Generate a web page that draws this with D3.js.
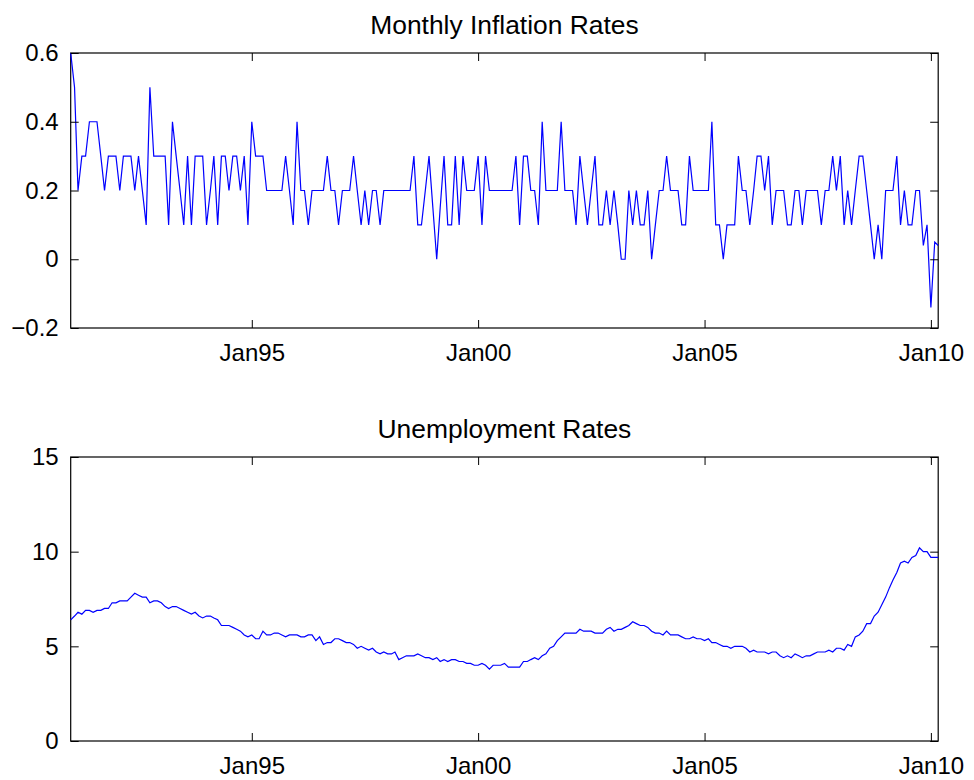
<!DOCTYPE html>
<html>
<head>
<meta charset="utf-8">
<script src="https://cdn.jsdelivr.net/npm/d3@7"></script>
<style>
  body { margin: 0; background: #fff; }
  svg { display: block; }
  text { font-family: "Liberation Sans", Arial, Helvetica, sans-serif; fill: #000; }
</style>
</head>
<body>
<svg id="chart" width="974" height="780"></svg>
<script>
// Monthly series, January 1991 through March 2010
const firstMonth = "1991-01";
const lastMonth = "2010-03";

// Month-over-month inflation, percent
const inflation = [
  0.6, 0.5, 0.2, 0.3, 0.3, 0.4, 0.4, 0.4, 0.3, 0.2, 0.3, 0.3,
  0.3, 0.2, 0.3, 0.3, 0.3, 0.2, 0.3, 0.2, 0.1, 0.5, 0.3, 0.3,
  0.3, 0.3, 0.1, 0.4, 0.3, 0.2, 0.1, 0.3, 0.1, 0.3, 0.3, 0.3,
  0.1, 0.2, 0.3, 0.1, 0.3, 0.3, 0.2, 0.3, 0.3, 0.2, 0.3, 0.1,
  0.4, 0.3, 0.3, 0.3, 0.2, 0.2, 0.2, 0.2, 0.2, 0.3, 0.2, 0.1,
  0.4, 0.2, 0.2, 0.1, 0.2, 0.2, 0.2, 0.2, 0.3, 0.2, 0.2, 0.1,
  0.2, 0.2, 0.2, 0.3, 0.2, 0.1, 0.2, 0.1, 0.2, 0.2, 0.1, 0.2,
  0.2, 0.2, 0.2, 0.2, 0.2, 0.2, 0.2, 0.3, 0.1, 0.1, 0.2, 0.3,
  0.15, 0.0, 0.15, 0.3, 0.1, 0.1, 0.3, 0.1, 0.3, 0.2, 0.2, 0.2,
  0.3, 0.1, 0.3, 0.2, 0.2, 0.2, 0.2, 0.2, 0.2, 0.2, 0.3, 0.1,
  0.3, 0.3, 0.2, 0.2, 0.1, 0.4, 0.2, 0.2, 0.2, 0.2, 0.4, 0.2,
  0.2, 0.2, 0.1, 0.3, 0.2, 0.1, 0.2, 0.3, 0.1, 0.1, 0.2, 0.1,
  0.2, 0.1, 0.0, 0.0, 0.2, 0.1, 0.2, 0.1, 0.1, 0.2, 0.0, 0.1,
  0.2, 0.2, 0.3, 0.2, 0.2, 0.2, 0.1, 0.1, 0.3, 0.2, 0.2, 0.2,
  0.2, 0.2, 0.4, 0.1, 0.1, 0.0, 0.1, 0.1, 0.1, 0.3, 0.2, 0.2,
  0.1, 0.2, 0.3, 0.3, 0.2, 0.3, 0.1, 0.2, 0.2, 0.2, 0.1, 0.1,
  0.2, 0.2, 0.1, 0.2, 0.2, 0.2, 0.2, 0.1, 0.2, 0.2, 0.3, 0.2,
  0.3, 0.1, 0.2, 0.1, 0.2, 0.3, 0.3, 0.2, 0.1, 0.0, 0.1, 0.0,
  0.2, 0.2, 0.2, 0.3, 0.1, 0.2, 0.1, 0.1, 0.2, 0.2, 0.04, 0.1,
  -0.14, 0.05, 0.04
];

// Civilian unemployment rate, percent
const unemployment = [
  6.4, 6.6, 6.8, 6.7, 6.9, 6.9, 6.8, 6.9, 6.9, 7.0, 7.0, 7.3,
  7.3, 7.4, 7.4, 7.4, 7.6, 7.8, 7.7, 7.6, 7.6, 7.3, 7.4, 7.4,
  7.3, 7.1, 7.0, 7.1, 7.1, 7.0, 6.9, 6.8, 6.7, 6.8, 6.6, 6.5,
  6.6, 6.6, 6.5, 6.4, 6.1, 6.1, 6.1, 6.0, 5.9, 5.8, 5.6, 5.5,
  5.6, 5.4, 5.4, 5.8, 5.6, 5.6, 5.7, 5.7, 5.6, 5.5, 5.6, 5.6,
  5.6, 5.5, 5.5, 5.6, 5.6, 5.3, 5.5, 5.1, 5.2, 5.2, 5.4, 5.4,
  5.3, 5.2, 5.2, 5.1, 4.9, 5.0, 4.9, 4.8, 4.9, 4.7, 4.6, 4.7,
  4.6, 4.6, 4.7, 4.3, 4.4, 4.5, 4.5, 4.5, 4.6, 4.5, 4.4, 4.4,
  4.3, 4.4, 4.2, 4.3, 4.2, 4.3, 4.3, 4.2, 4.2, 4.1, 4.1, 4.0,
  4.0, 4.1, 4.0, 3.8, 4.0, 4.0, 4.0, 4.1, 3.9, 3.9, 3.9, 3.9,
  4.2, 4.2, 4.3, 4.4, 4.3, 4.5, 4.6, 4.9, 5.0, 5.3, 5.5, 5.7,
  5.7, 5.7, 5.7, 5.9, 5.8, 5.8, 5.8, 5.7, 5.7, 5.7, 5.9, 6.0,
  5.8, 5.9, 5.9, 6.0, 6.1, 6.3, 6.2, 6.1, 6.1, 6.0, 5.8, 5.7,
  5.7, 5.6, 5.8, 5.6, 5.6, 5.6, 5.5, 5.4, 5.4, 5.5, 5.4, 5.4,
  5.3, 5.4, 5.2, 5.2, 5.1, 5.0, 5.0, 4.9, 5.0, 5.0, 5.0, 4.9,
  4.7, 4.8, 4.7, 4.7, 4.7, 4.6, 4.7, 4.7, 4.5, 4.4, 4.5, 4.4,
  4.6, 4.5, 4.4, 4.5, 4.5, 4.6, 4.7, 4.7, 4.7, 4.8, 4.7, 4.9,
  4.9, 4.8, 5.1, 5.0, 5.5, 5.6, 5.8, 6.2, 6.2, 6.6, 6.8, 7.2,
  7.6, 8.1, 8.5, 8.9, 9.4, 9.5, 9.4, 9.7, 9.8, 10.2, 10.0, 10.0,
  9.7, 9.7, 9.7
];

const dateTickLabels = ["Jan95", "Jan00", "Jan05", "Jan10"];
const inflationTicks = [-0.2, 0, 0.2, 0.4, 0.6];
const unemploymentTicks = [0, 5, 10, 15];
const panelTitles = ["Monthly Inflation Rates", "Unemployment Rates"];

const svg = d3.select("#chart");
const parseMonth = d3.utcParse("%Y-%m");
const parseTick = d3.utcParse("%b%y");
const fmtTick = d3.utcFormat("%b%y");

const months = d3.utcMonth.range(parseMonth(firstMonth), d3.utcMonth.offset(parseMonth(lastMonth), 1));

const left = 70.7, right = 938.2;
const x = d3.scaleUtc()
  .domain([parseMonth(firstMonth), parseMonth(lastMonth)])
  .range([left, right]);
const xTickValues = dateTickLabels.map(parseTick);

const fontSize = 24;
const titleSize = 26.4;
const tickLen = 8;

const panels = [
  { title: panelTitles[0], values: inflation, domain: [-0.2, 0.6], ticks: inflationTicks,
    top: 53, bottom: 328, fmt: d => (d < 0 ? "\u2212" + Math.abs(d) : String(d)) },
  { title: panelTitles[1], values: unemployment, domain: [0, 15], ticks: unemploymentTicks,
    top: 457, bottom: 741, fmt: d => String(d) }
];

panels.forEach(p => {
  const y = d3.scaleLinear().domain(p.domain).range([p.bottom, p.top]);
  const g = svg.append("g");

  // frame
  g.append("rect")
    .attr("x", left).attr("y", p.top)
    .attr("width", right - left).attr("height", p.bottom - p.top)
    .attr("fill", "none").attr("stroke", "#000").attr("stroke-width", 1.2);

  // series
  const series = months.map((m, i) => ({ date: m, v: p.values[i] }));
  g.append("path")
    .datum(series)
    .attr("fill", "none")
    .attr("stroke", "#0000ff")
    .attr("stroke-width", 1.2)
    .attr("stroke-linejoin", "miter")
    .attr("d", d3.line().x(d => x(d.date)).y(d => y(d.v)));

  const styleAxis = sel => {
    sel.select(".domain").remove();
    sel.selectAll(".tick line").attr("stroke", "#000").attr("stroke-width", 1);
    sel.selectAll(".tick text").style("font-size", fontSize + "px").attr("fill", "#000");
  };

  // bottom axis with labels
  g.append("g")
    .attr("transform", `translate(0,${p.bottom})`)
    .call(d3.axisBottom(x).tickValues(xTickValues).tickFormat(fmtTick)
      .tickSizeInner(-tickLen).tickSizeOuter(0).tickPadding(16))
    .call(styleAxis);
  // top mirrored ticks
  g.append("g")
    .attr("transform", `translate(0,${p.top})`)
    .call(d3.axisTop(x).tickValues(xTickValues).tickFormat("")
      .tickSizeInner(-tickLen).tickSizeOuter(0))
    .call(styleAxis);
  // left axis with labels
  g.append("g")
    .attr("transform", `translate(${left},0)`)
    .call(d3.axisLeft(y).tickValues(p.ticks).tickFormat(p.fmt)
      .tickSizeInner(-tickLen).tickSizeOuter(0).tickPadding(12))
    .call(styleAxis);
  // right mirrored ticks
  g.append("g")
    .attr("transform", `translate(${right},0)`)
    .call(d3.axisRight(y).tickValues(p.ticks).tickFormat("")
      .tickSizeInner(-tickLen).tickSizeOuter(0))
    .call(styleAxis);

  // title
  g.append("text")
    .attr("x", (left + right) / 2)
    .attr("y", p.top - 19)
    .attr("text-anchor", "middle")
    .style("font-size", titleSize + "px")
    .text(p.title);
});
</script>
</body>
</html>
